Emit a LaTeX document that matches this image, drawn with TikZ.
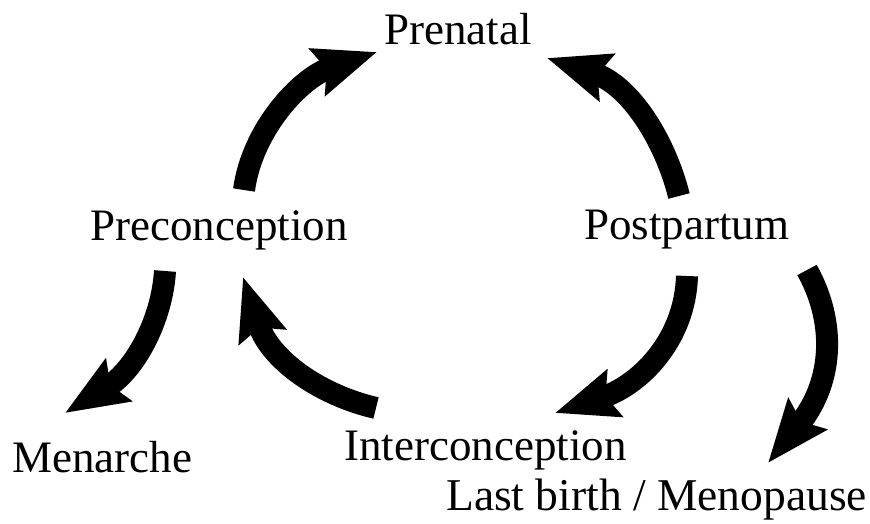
\documentclass[tikz,border=0pt]{standalone}
\usepackage{fontspec}
\setmainfont{Liberation Serif}
\usetikzlibrary{arrows.meta}
\begin{document}
\begin{tikzpicture}[x=1pt,y=-1pt,
  lbl/.style={inner sep=0pt,anchor=base west,font=\fontsize{45}{50}\selectfont},
  bigarrow/.style={line width=22pt,line cap=butt,-{Stealth[length=62pt,width=48pt,inset=9pt]}}]
\useasboundingbox[fill=white] (0,0) rectangle (870,523);
% labels
\node[lbl] (prenatal) at (384,44) {Prenatal};
\node[lbl] (precon) at (90,240) {Preconception};
\node[lbl] (postp) at (584,239) {Postpartum};
\node[lbl] (menarche) at (12,472) {Menarche};
\node[lbl,font=\fontsize{45.5}{50}\selectfont] (lastb) at (446,510) {Last birth / Menopause};
\node[lbl] (intercon) at (344,460) {Interconception};
% arrow end points
\coordinate (a1s) at (244,190); \coordinate (a1e) at (377,52);
\coordinate (a2s) at (679,196); \coordinate (a2e) at (547,58);
\coordinate (a3s) at (165,271); \coordinate (a3e) at (65,413);
\coordinate (a4s) at (687,276); \coordinate (a4e) at (555,413);
\coordinate (a5s) at (376,408); \coordinate (a5e) at (243,277);
\coordinate (a6s) at (807,270); \coordinate (a6e) at (768,463);
% arrows
\draw[bigarrow] (a1s) .. controls (252,130) and (300,78) .. (a1e);
\draw[bigarrow] (a2s) .. controls (665,140) and (630,85) .. (a2e);
\draw[bigarrow] (a3s) .. controls (162,320) and (135,370) .. (a3e);
\draw[bigarrow] (a4s) .. controls (685,340) and (640,385) .. (a4e);
\draw[bigarrow] (a5s) .. controls (320,395) and (270,360) .. (a5e);
\draw[bigarrow] (a6s) .. controls (835,320) and (835,380) .. (a6e);
\end{tikzpicture}
\end{document}
